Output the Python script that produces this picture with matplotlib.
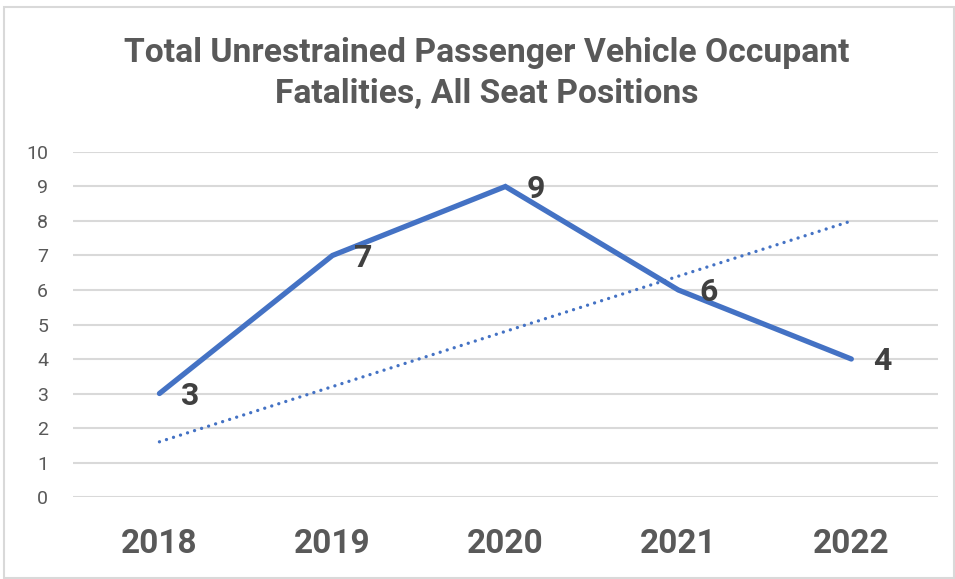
import matplotlib.pyplot as plt
from matplotlib.patches import Rectangle

# Chart data
years = ['2018', '2019', '2020', '2021', '2022']
fatalities = [3, 7, 9, 6, 4]
trend_ends = [1.6, 8.0]  # dotted trend line at first and last year
y_ticks = list(range(0, 11))

blue = '#4472C4'
gray = '#595959'

plt.rcParams['font.family'] = ['Roboto', 'DejaVu Sans']

fig = plt.figure(figsize=(9.55, 5.79), dpi=100)
ax = fig.add_axes([0.0764, 0.1416, 0.9056, 0.5959])

x = list(range(len(years)))
ax.plot(x, fatalities, color=blue, lw=3.8, solid_capstyle='round',
        solid_joinstyle='miter', zorder=3)
ax.plot([x[0], x[-1]], trend_ends, color=blue, lw=2.4, linestyle=(0, (0.01, 2.2)),
        dash_capstyle='round', zorder=2)

for xi, v in zip(x, fatalities):
    ax.annotate(str(v), (xi, v), xytext=(22, -1.5), textcoords='offset points',
                ha='center', va='center', fontsize=23, fontweight='bold',
                color='#404040', zorder=4)

ax.set_xlim(-0.5, len(years) - 0.5)
ax.set_ylim(0, 10)
ax.set_yticks(y_ticks)
ax.set_xticks(x)
ax.set_xticklabels(years, fontsize=24, fontweight='bold', color=gray)
ax.tick_params(axis='y', length=0, pad=18, labelsize=14, labelcolor=gray)
ax.tick_params(axis='x', length=0, pad=22)
ax.grid(axis='y', color='#D9D9D9', lw=1.5)
ax.set_axisbelow(True)
for s in ax.spines.values():
    s.set_visible(False)

fig.text(0.51, 0.873, 'Total Unrestrained Passenger Vehicle Occupant\nFatalities, All Seat Positions',
         ha='center', va='center', fontsize=24.2, fontweight='bold', color=gray,
         linespacing=1.38)

# chart area border
fig.patches.append(Rectangle((4 / 955, 1 / 579), 950 / 955, 571 / 579,
                             transform=fig.transFigure, fill=False,
                             edgecolor='#D9D9D9', lw=1.5))

plt.savefig('out.png', dpi=100)
